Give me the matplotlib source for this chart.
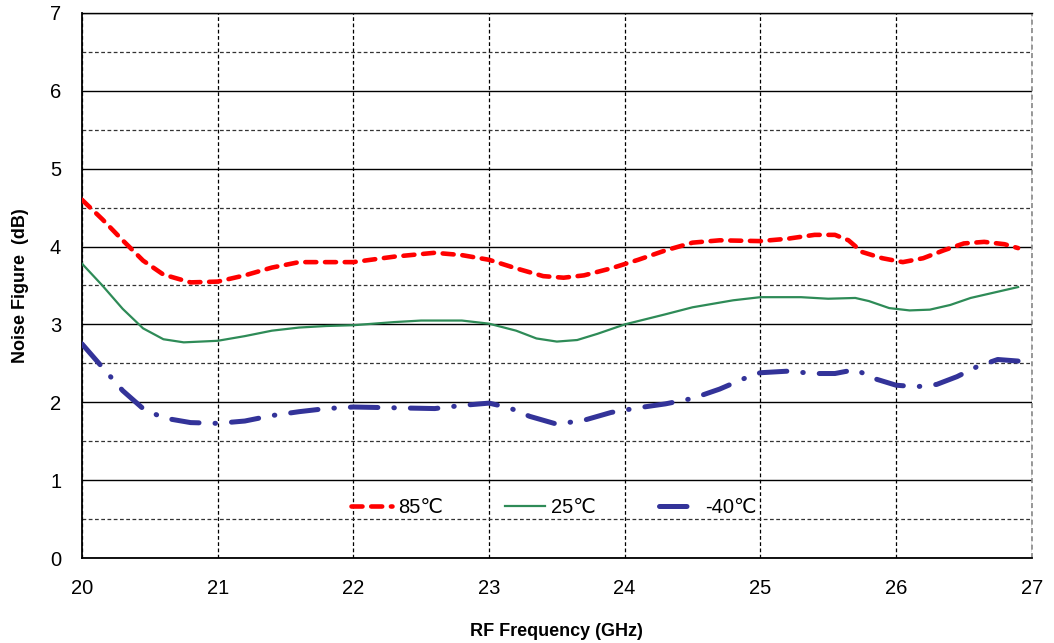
import matplotlib
matplotlib.use("Agg")
from matplotlib import pyplot as plt
from matplotlib.ticker import MultipleLocator

plt.rcParams['font.family'] = ['Liberation Sans', 'DejaVu Sans']

# 85 C curve
f85 = [20.0, 20.15, 20.3, 20.45, 20.6, 20.8, 21.0, 21.2, 21.4, 21.6, 21.8, 22.0, 22.3, 22.6, 22.8, 23.0,
       23.2, 23.4, 23.55, 23.7, 23.9, 24.1, 24.3, 24.5, 24.7, 25.0, 25.2, 25.4, 25.55, 25.65, 25.75,
       25.9, 26.05, 26.2, 26.35, 26.5, 26.65, 26.8, 26.9]
nf85 = [4.6, 4.35, 4.08, 3.82, 3.64, 3.54, 3.55, 3.63, 3.73, 3.8, 3.8, 3.8, 3.87, 3.92, 3.89, 3.83,
        3.72, 3.62, 3.6, 3.63, 3.72, 3.83, 3.95, 4.05, 4.08, 4.07, 4.1, 4.15, 4.15, 4.08, 3.93,
        3.85, 3.8, 3.85, 3.95, 4.04, 4.06, 4.03, 3.98]

# 25 C curve
f25 = [20.0, 20.15, 20.3, 20.45, 20.6, 20.75, 21.0, 21.2, 21.4, 21.6, 21.8, 22.0, 22.3, 22.5, 22.8,
       23.0, 23.2, 23.35, 23.5, 23.65, 23.8, 24.0, 24.3, 24.5, 24.8, 25.0, 25.3, 25.5, 25.7, 25.8,
       25.95, 26.1, 26.25, 26.4, 26.55, 26.75, 26.9]
nf25 = [3.78, 3.5, 3.2, 2.95, 2.81, 2.77, 2.79, 2.85, 2.92, 2.96, 2.98, 2.99, 3.03, 3.05, 3.05,
        3.01, 2.92, 2.82, 2.78, 2.8, 2.88, 3.0, 3.13, 3.22, 3.31, 3.35, 3.35, 3.33, 3.34, 3.3,
        3.21, 3.18, 3.19, 3.25, 3.34, 3.42, 3.48]

# -40 C curve
fm40 = [20.0, 20.15, 20.3, 20.45, 20.6, 20.8, 21.0, 21.2, 21.4, 21.6, 21.8, 22.0, 22.3, 22.6, 22.8,
        23.0, 23.15, 23.3, 23.5, 23.7, 23.9, 24.1, 24.3, 24.5, 24.7, 24.9, 25.0, 25.2, 25.4, 25.55,
        25.7, 25.85, 26.0, 26.15, 26.3, 26.45, 26.6, 26.75, 26.9]
nfm40 = [2.75, 2.45, 2.15, 1.92, 1.8, 1.74, 1.73, 1.76, 1.83, 1.88, 1.92, 1.94, 1.93, 1.92, 1.96,
         1.99, 1.93, 1.82, 1.72, 1.77, 1.87, 1.93, 1.98, 2.05, 2.17, 2.32, 2.38, 2.4, 2.37, 2.37,
         2.42, 2.3, 2.22, 2.2, 2.23, 2.33, 2.46, 2.55, 2.53]

labels = ['85\u2103', '25\u2103', '-40\u2103']

fig = plt.figure(figsize=(10.54, 6.43), dpi=100)
ax = fig.add_axes([0.0778, 0.132, 0.901, 0.848])

ax.plot(f85, nf85, color='#ff0000', lw=3.3, dashes=(2.4, 1.9), dash_capstyle='round',
        label=labels[0], zorder=3)
ax.plot(f25, nf25, color='#2e8b57', lw=1.6, label=labels[1], zorder=3)
ax.plot(fm40, nfm40, color='#333399', lw=3.6, dashes=(5.5, 3.2, 0.1, 3.2), dash_capstyle='round',
        solid_capstyle='round', label=labels[2], zorder=3)

ax.set_xlim(20, 27)
ax.set_ylim(0, 7)
ax.xaxis.set_major_locator(MultipleLocator(1))
ax.yaxis.set_major_locator(MultipleLocator(1))
ax.yaxis.set_minor_locator(MultipleLocator(0.5))

# grid
ax.grid(axis='y', which='major', color='black', lw=1.0, ls='-')
ax.grid(axis='y', which='minor', color='#333333', lw=0.9, ls=(0, (3, 2)))
ax.grid(axis='x', which='major', color='black', lw=0.9, ls=(0, (3, 2)))
ax.set_axisbelow(True)

for s in ['left', 'bottom']:
    ax.spines[s].set_linewidth(1.3)
ax.spines['top'].set_linewidth(1.0)
ax.spines['right'].set_visible(False)
ax.axvline(27, color='#888888', lw=1.2, ls=(0, (3, 2)), zorder=2, clip_on=False)

ax.tick_params(axis='both', which='both', length=0, labelsize=14.5)
ax.tick_params(axis='y', pad=15)
ax.tick_params(axis='x', pad=15)

ax.set_xlabel('RF Frequency (GHz)', fontsize=13, fontweight='bold', labelpad=18)
ax.set_ylabel('Noise Figure  (dB)', fontsize=13, fontweight='bold', labelpad=15)

ax.legend(loc='center', bbox_to_anchor=(0.497, 0.092), ncol=3, frameon=False, fontsize=14.5,
          handlelength=2.0, columnspacing=3.1, handletextpad=0.3)

fig.savefig('out.png', dpi=100)
